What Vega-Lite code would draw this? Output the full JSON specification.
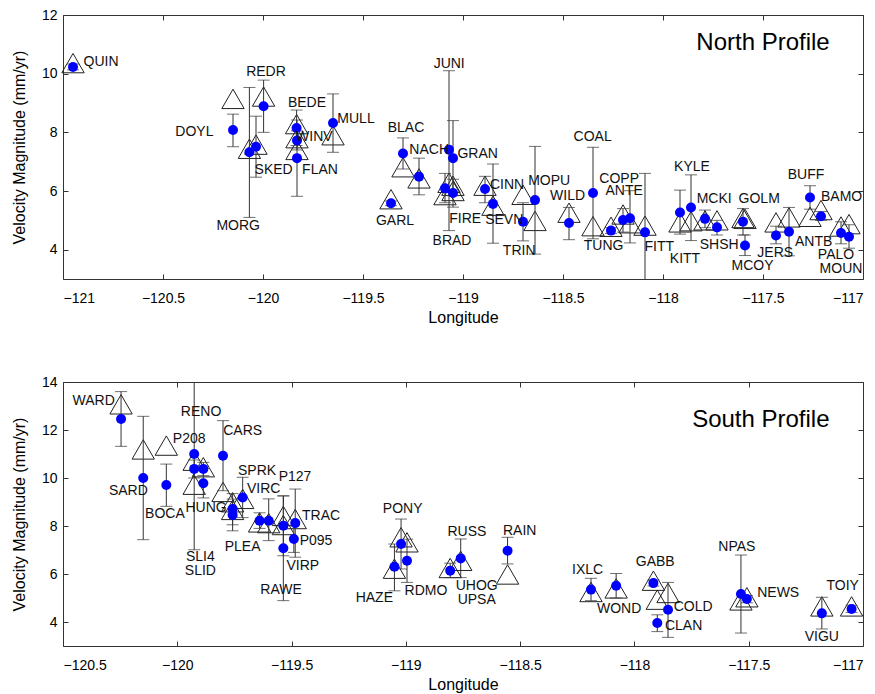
{
  "$schema": "https://vega.github.io/schema/vega-lite/v6.json",
  "padding": {"left": 10, "top": 7, "right": 0, "bottom": 0},
  "spacing": 48,
  "config": {
    "font": "Liberation Sans",
    "view": {"stroke": "#333", "strokeWidth": 1},
    "axis": {"grid": false, "domain": false, "tickSize": -5, "tickColor": "#333", "labelFontSize": 14, "labelColor": "#000", "titleFontSize": 16, "titleFontWeight": "normal", "titleColor": "#000", "labelFont": "Liberation Sans", "titleFont": "Liberation Sans"}
  },
  "datasets": {
    "north": [
      {"s":"QUIN","lon":-120.95,"obs":10.23,"lo":10.13,"hi":10.33,"mod":10.36},
      {"s":"DOYL","lon":-120.15,"obs":8.08,"lo":7.51,"hi":8.62,"mod":9.14},
      {"s":"MORG","lon":-120.068,"obs":7.32,"lo":5.10,"hi":9.53,"mod":7.44},
      {"s":"SKED","lon":-120.035,"obs":7.51,"lo":6.47,"hi":8.55,"mod":7.58},
      {"s":"REDR","lon":-119.997,"obs":8.89,"lo":8.00,"hi":9.78,"mod":9.22},
      {"s":"BEDE","lon":-119.832,"obs":8.15,"lo":7.55,"hi":8.76,"mod":8.28},
      {"s":"WINV","lon":-119.83,"obs":7.72,"lo":7.4,"hi":8.05,"mod":7.8},
      {"s":"FLAN","lon":-119.83,"obs":7.12,"lo":5.82,"hi":8.42,"mod":7.4},
      {"s":"MULL","lon":-119.65,"obs":8.32,"lo":7.32,"hi":9.31,"mod":7.9},
      {"s":"BLAC","lon":-119.30,"obs":7.28,"lo":6.75,"hi":7.81,"mod":6.81},
      {"s":"NACH","lon":-119.22,"obs":6.49,"lo":5.87,"hi":7.12,"mod":6.43},
      {"s":"GARL","lon":-119.36,"obs":5.58,"lo":5.5,"hi":5.66,"mod":5.72},
      {"s":"JUNI","lon":-119.07,"obs":7.41,"lo":4.65,"hi":10.1,"mod":6.28},
      {"s":"GRAN","lon":-119.05,"obs":7.12,"lo":5.84,"hi":8.4,"mod":6.18},
      {"s":"FIRE","lon":-119.09,"obs":6.09,"lo":5.6,"hi":6.6,"mod":5.86},
      {"s":"BRAD","lon":-119.05,"obs":5.93,"lo":5.45,"hi":6.4,"mod":6.0},
      {"s":"CINN","lon":-118.89,"obs":6.07,"lo":5.6,"hi":6.5,"mod":6.18},
      {"s":"SEVN","lon":-118.85,"obs":5.56,"lo":4.22,"hi":6.92,"mod":5.5},
      {"s":"TRIN","lon":-118.70,"obs":4.95,"lo":4.3,"hi":5.6,"mod":5.87},
      {"s":"MOPU","lon":-118.64,"obs":5.69,"lo":3.85,"hi":7.52,"mod":4.98},
      {"s":"WILD","lon":-118.47,"obs":4.91,"lo":4.34,"hi":5.44,"mod":5.26},
      {"s":"COAL","lon":-118.35,"obs":5.93,"lo":4.37,"hi":7.49,"mod":4.8},
      {"s":"TUNG","lon":-118.26,"obs":4.65,"lo":4.55,"hi":4.75,"mod":4.78},
      {"s":"COPP","lon":-118.20,"obs":5.01,"lo":4.6,"hi":5.4,"mod":5.2},
      {"s":"ANTE","lon":-118.165,"obs":5.07,"lo":4.23,"hi":6.01,"mod":4.9},
      {"s":"FITT","lon":-118.09,"obs":4.59,"lo":2.6,"hi":6.6,"mod":4.82},
      {"s":"KITT","lon":-117.915,"obs":5.27,"lo":4.53,"hi":6.03,"mod":4.93},
      {"s":"KYLE","lon":-117.86,"obs":5.44,"lo":4.31,"hi":6.55,"mod":4.97},
      {"s":"MCKI","lon":-117.79,"obs":5.05,"lo":4.75,"hi":5.35,"mod":5.0},
      {"s":"SHSH","lon":-117.73,"obs":4.76,"lo":4.5,"hi":5.0,"mod":5.0},
      {"s":"GOLM","lon":-117.60,"obs":4.95,"lo":4.5,"hi":5.4,"mod":5.08},
      {"s":"MCOY","lon":-117.59,"obs":4.14,"lo":3.8,"hi":4.5,"mod":5.05},
      {"s":"JERS","lon":-117.435,"obs":4.48,"lo":4.2,"hi":4.8,"mod":4.93},
      {"s":"ANTB","lon":-117.37,"obs":4.61,"lo":3.79,"hi":5.44,"mod":5.1},
      {"s":"BUFF","lon":-117.265,"obs":5.78,"lo":5.38,"hi":6.18,"mod":5.12},
      {"s":"BAMO","lon":-117.21,"obs":5.14,"lo":5.0,"hi":5.3,"mod":5.35},
      {"s":"PALO","lon":-117.11,"obs":4.57,"lo":4.2,"hi":4.95,"mod":4.79},
      {"s":"MOUN","lon":-117.07,"obs":4.44,"lo":4.05,"hi":4.85,"mod":4.87}
    ],
    "northLabels": [
      {"s":"QUIN","lx":-120.81,"ly":10.39},{"s":"REDR","lx":-119.985,"ly":10.07},{"s":"DOYL","lx":-120.343,"ly":8.0},
      {"s":"BEDE","lx":-119.78,"ly":8.99},{"s":"MULL","lx":-119.535,"ly":8.45},{"s":"WINV","lx":-119.743,"ly":7.83},
      {"s":"SKED","lx":-119.947,"ly":6.73},{"s":"FLAN","lx":-119.715,"ly":6.73},{"s":"MORG","lx":-120.124,"ly":4.8},
      {"s":"BLAC","lx":-119.285,"ly":8.15},{"s":"NACH","lx":-119.169,"ly":7.41},{"s":"GRAN","lx":-118.927,"ly":7.26},
      {"s":"JUNI","lx":-119.069,"ly":10.33},{"s":"GARL","lx":-119.34,"ly":4.97},{"s":"FIRE","lx":-118.989,"ly":5.04},
      {"s":"BRAD","lx":-119.055,"ly":4.3},{"s":"CINN","lx":-118.78,"ly":6.2},{"s":"SEVN","lx":-118.794,"ly":5.02},
      {"s":"TRIN","lx":-118.719,"ly":3.96},{"s":"MOPU","lx":-118.569,"ly":6.35},{"s":"WILD","lx":-118.477,"ly":5.84},
      {"s":"COAL","lx":-118.352,"ly":7.83},{"s":"COPP","lx":-118.219,"ly":6.42},{"s":"ANTE","lx":-118.194,"ly":6.0},
      {"s":"TUNG","lx":-118.297,"ly":4.13},{"s":"FITT","lx":-118.019,"ly":4.1},{"s":"KITT","lx":-117.89,"ly":3.68},
      {"s":"KYLE","lx":-117.855,"ly":6.81},{"s":"MCKI","lx":-117.744,"ly":5.73},{"s":"SHSH","lx":-117.719,"ly":4.17},
      {"s":"GOLM","lx":-117.519,"ly":5.73},{"s":"MCOY","lx":-117.552,"ly":3.45},{"s":"JERS","lx":-117.439,"ly":3.89},
      {"s":"ANTB","lx":-117.247,"ly":4.27},{"s":"BUFF","lx":-117.285,"ly":6.56},{"s":"BAMO","lx":-117.107,"ly":5.78},
      {"s":"PALO","lx":-117.135,"ly":3.82},{"s":"MOUN","lx":-117.11,"ly":3.34}
    ],
    "south": [
      {"s":"WARD","lon":-120.246,"obs":12.46,"lo":11.32,"hi":13.6,"mod":13.07},
      {"s":"SARD","lon":-120.149,"obs":10.0,"lo":7.43,"hi":12.57,"mod":11.19},
      {"s":"BOCA","lon":-120.048,"obs":9.71,"lo":8.82,"hi":10.58,"mod":11.35},
      {"s":"SLI4","lon":-119.926,"obs":11.0,"lo":7.01,"hi":15.0,"mod":10.72},
      {"s":"SLID","lon":-119.926,"obs":10.38,"lo":10.0,"hi":10.75,"mod":9.72},
      {"s":"RENO","lon":-119.886,"obs":10.38,"lo":10.1,"hi":10.65,"mod":10.45},
      {"s":"HUNG","lon":-119.886,"obs":9.78,"lo":9.17,"hi":10.39,"mod":null},
      {"s":"CARS","lon":-119.80,"obs":10.93,"lo":9.47,"hi":12.39,"mod":9.42},
      {"s":"SPRK","lon":-119.714,"obs":9.19,"lo":8.35,"hi":10.03,"mod":9.13},
      {"s":"PLEA","lon":-119.758,"obs":8.71,"lo":8.05,"hi":9.35,"mod":8.99},
      {"s":"PLEB","lon":-119.758,"obs":8.46,"lo":7.8,"hi":9.12,"mod":8.67},
      {"s":"VIRC","lon":-119.60,"obs":8.22,"lo":7.39,"hi":9.13,"mod":8.12},
      {"s":"VIRD","lon":-119.64,"obs":8.22,"lo":7.9,"hi":8.55,"mod":8.15},
      {"s":"P127","lon":-119.536,"obs":8.01,"lo":6.76,"hi":9.26,"mod":8.42},
      {"s":"RAWE","lon":-119.536,"obs":7.07,"lo":4.89,"hi":9.25,"mod":8.04},
      {"s":"TRAC","lon":-119.484,"obs":8.12,"lo":6.7,"hi":9.54,"mod":8.29},
      {"s":"P095","lon":-119.49,"obs":7.46,"lo":6.9,"hi":8.02,"mod":null},
      {"s":"PONY","lon":-119.021,"obs":7.25,"lo":6.21,"hi":8.29,"mod":7.53},
      {"s":"RDMO","lon":-118.995,"obs":6.55,"lo":5.65,"hi":7.45,"mod":7.32},
      {"s":"HAZE","lon":-119.05,"obs":6.3,"lo":5.3,"hi":7.25,"mod":6.22},
      {"s":"UPSA","lon":-118.806,"obs":6.14,"lo":5.85,"hi":6.45,"mod":6.25},
      {"s":"RUSS","lon":-118.76,"obs":6.65,"lo":5.85,"hi":7.46,"mod":6.55},
      {"s":"RAIN","lon":-118.555,"obs":6.97,"lo":6.42,"hi":7.53,"mod":5.98},
      {"s":"IXLC","lon":-118.19,"obs":5.35,"lo":4.89,"hi":5.82,"mod":5.25},
      {"s":"WOND","lon":-118.08,"obs":5.51,"lo":5.0,"hi":6.02,"mod":5.4},
      {"s":"GABB","lon":-117.917,"obs":5.62,"lo":5.5,"hi":5.75,"mod":5.72},
      {"s":"COLD","lon":-117.853,"obs":4.51,"lo":3.36,"hi":5.65,"mod":5.21},
      {"s":"CLAN","lon":-117.90,"obs":3.96,"lo":3.6,"hi":4.3,"mod":4.93},
      {"s":"NPAS","lon":-117.534,"obs":5.17,"lo":3.54,"hi":6.79,"mod":4.9},
      {"s":"NEWS","lon":-117.508,"obs":4.96,"lo":4.8,"hi":5.1,"mod":5.03},
      {"s":"VIGU","lon":-117.18,"obs":4.36,"lo":3.71,"hi":5.03,"mod":4.65},
      {"s":"TOIY","lon":-117.05,"obs":4.54,"lo":4.4,"hi":4.7,"mod":4.65}
    ],
    "southLabels": [
      {"s":"WARD","lx":-120.366,"ly":13.22},{"s":"SARD","lx":-120.214,"ly":9.47},{"s":"BOCA","lx":-120.054,"ly":8.5},
      {"s":"P208","lx":-119.948,"ly":11.63},{"s":"RENO","lx":-119.896,"ly":12.76},{"s":"CARS","lx":-119.714,"ly":11.97},
      {"s":"HUNG","lx":-119.874,"ly":8.74},{"s":"SLI4","lx":-119.899,"ly":6.72},{"s":"SLID","lx":-119.899,"ly":6.14},
      {"s":"SPRK","lx":-119.651,"ly":10.3},{"s":"P127","lx":-119.485,"ly":10.03},{"s":"VIRC","lx":-119.622,"ly":9.54},
      {"s":"TRAC","lx":-119.371,"ly":8.4},{"s":"PLEA","lx":-119.714,"ly":7.11},{"s":"P095","lx":-119.393,"ly":7.36},
      {"s":"VIRP","lx":-119.451,"ly":6.35},{"s":"RAWE","lx":-119.546,"ly":5.35},{"s":"PONY","lx":-119.014,"ly":8.71},
      {"s":"RUSS","lx":-118.733,"ly":7.74},{"s":"RAIN","lx":-118.502,"ly":7.8},{"s":"HAZE","lx":-119.138,"ly":4.99},
      {"s":"RDMO","lx":-118.912,"ly":5.3},{"s":"UHOG","lx":-118.69,"ly":5.52},{"s":"UPSA","lx":-118.69,"ly":4.92},
      {"s":"IXLC","lx":-118.205,"ly":6.18},{"s":"WOND","lx":-118.067,"ly":4.54},{"s":"GABB","lx":-117.909,"ly":6.49},
      {"s":"COLD","lx":-117.743,"ly":4.61},{"s":"CLAN","lx":-117.785,"ly":3.85},{"s":"NPAS","lx":-117.552,"ly":7.11},
      {"s":"NEWS","lx":-117.371,"ly":5.21},{"s":"TOIY","lx":-117.089,"ly":5.49},{"s":"VIGU","lx":-117.18,"ly":3.36}
    ],
    "northTitle": [{"t":"North Profile","lx":-117.5,"ly":11.05}],
    "southTitle": [{"t":"South Profile","lx":-117.447,"ly":12.42}]
  },
  "vconcat": [
    {
      "width": 800, "height": 264,
      "resolve": {"axis": {"x": "independent", "y": "independent"}},
      "layer": [
        {
          "data": {"name": "north"},
          "mark": {"type": "point", "shape": "triangle-up", "size": 500, "filled": false, "stroke": "#222", "strokeWidth": 1, "opacity": 1},
          "encoding": {
            "x": {"field": "lon", "type": "quantitative", "scale": {"domain": [-121, -117], "nice": false, "zero": false},
                  "axis": {"values": [-121, -120.5, -120, -119.5, -119, -118.5, -118, -117.5, -117], "format": ".1~f", "title": "Longitude", "labelPadding": 17, "titlePadding": 4}},
            "y": {"field": "mod", "type": "quantitative", "scale": {"domain": [3, 12], "nice": false, "zero": false},
                  "axis": {"values": [4, 6, 8, 10, 12], "title": "Velocity Magnitude (mm/yr)", "labelPadding": 11, "titlePadding": 14}}
          }
        },
        {
          "data": {"name": "north"},
          "mark": {"type": "rule", "color": "#333", "strokeWidth": 1, "clip": true},
          "encoding": {
            "x": {"field": "lon", "type": "quantitative", "axis": null},
            "y": {"field": "lo", "type": "quantitative", "axis": null},
            "y2": {"field": "hi"}
          }
        },
        {
          "data": {"name": "north"},
          "mark": {"type": "tick", "orient": "horizontal", "color": "#333", "size": 12, "thickness": 1, "clip": true},
          "encoding": {
            "x": {"field": "lon", "type": "quantitative", "axis": null},
            "y": {"field": "lo", "type": "quantitative", "axis": null}
          }
        },
        {
          "data": {"name": "north"},
          "mark": {"type": "tick", "orient": "horizontal", "color": "#333", "size": 12, "thickness": 1, "clip": true},
          "encoding": {
            "x": {"field": "lon", "type": "quantitative", "axis": null},
            "y": {"field": "hi", "type": "quantitative", "axis": null}
          }
        },
        {
          "data": {"name": "north"},
          "mark": {"type": "point", "shape": "circle", "size": 100, "filled": true, "color": "#0000ff", "opacity": 1},
          "encoding": {
            "x": {"field": "lon", "type": "quantitative", "axis": null},
            "y": {"field": "obs", "type": "quantitative", "axis": null}
          }
        },
        {
          "data": {"name": "northLabels"},
          "mark": {"type": "text", "fontSize": 14, "font": "Liberation Sans", "color": "#111", "align": "center", "baseline": "middle"},
          "encoding": {
            "x": {"field": "lx", "type": "quantitative", "axis": null},
            "y": {"field": "ly", "type": "quantitative", "axis": null},
            "text": {"field": "s"}
          }
        },
        {
          "data": {"name": "northTitle"},
          "mark": {"type": "text", "fontSize": 24, "font": "Liberation Sans", "color": "#000", "align": "center", "baseline": "middle"},
          "encoding": {
            "x": {"field": "lx", "type": "quantitative", "axis": {"orient": "top", "values": [-121, -120.5, -120, -119.5, -119, -118.5, -118, -117.5, -117], "labels": false, "title": null}},
            "y": {"field": "ly", "type": "quantitative", "axis": {"orient": "right", "values": [4, 6, 8, 10, 12], "labels": false, "title": null}},
            "text": {"field": "t"}
          }
        }
      ]
    },
    {
      "width": 800, "height": 264,
      "resolve": {"axis": {"x": "independent", "y": "independent"}},
      "layer": [
        {
          "data": {"name": "south"},
          "mark": {"type": "point", "shape": "triangle-up", "size": 500, "filled": false, "stroke": "#222", "strokeWidth": 1, "opacity": 1},
          "encoding": {
            "x": {"field": "lon", "type": "quantitative", "scale": {"domain": [-120.5, -117], "nice": false, "zero": false},
                  "axis": {"values": [-120.5, -120, -119.5, -119, -118.5, -118, -117.5, -117], "format": ".1~f", "title": "Longitude", "labelPadding": 17, "titlePadding": 4}},
            "y": {"field": "mod", "type": "quantitative", "scale": {"domain": [3, 14], "nice": false, "zero": false},
                  "axis": {"values": [4, 6, 8, 10, 12, 14], "title": "Velocity Magnitude (mm/yr)", "labelPadding": 11, "titlePadding": 14}}
          }
        },
        {
          "data": {"name": "south"},
          "mark": {"type": "rule", "color": "#333", "strokeWidth": 1, "clip": true},
          "encoding": {
            "x": {"field": "lon", "type": "quantitative", "axis": null},
            "y": {"field": "lo", "type": "quantitative", "axis": null},
            "y2": {"field": "hi"}
          }
        },
        {
          "data": {"name": "south"},
          "mark": {"type": "tick", "orient": "horizontal", "color": "#333", "size": 12, "thickness": 1, "clip": true},
          "encoding": {
            "x": {"field": "lon", "type": "quantitative", "axis": null},
            "y": {"field": "lo", "type": "quantitative", "axis": null}
          }
        },
        {
          "data": {"name": "south"},
          "mark": {"type": "tick", "orient": "horizontal", "color": "#333", "size": 12, "thickness": 1, "clip": true},
          "encoding": {
            "x": {"field": "lon", "type": "quantitative", "axis": null},
            "y": {"field": "hi", "type": "quantitative", "axis": null}
          }
        },
        {
          "data": {"name": "south"},
          "mark": {"type": "point", "shape": "circle", "size": 100, "filled": true, "color": "#0000ff", "opacity": 1},
          "encoding": {
            "x": {"field": "lon", "type": "quantitative", "axis": null},
            "y": {"field": "obs", "type": "quantitative", "axis": null}
          }
        },
        {
          "data": {"name": "southLabels"},
          "mark": {"type": "text", "fontSize": 14, "font": "Liberation Sans", "color": "#111", "align": "center", "baseline": "middle"},
          "encoding": {
            "x": {"field": "lx", "type": "quantitative", "axis": null},
            "y": {"field": "ly", "type": "quantitative", "axis": null},
            "text": {"field": "s"}
          }
        },
        {
          "data": {"name": "southTitle"},
          "mark": {"type": "text", "fontSize": 24, "font": "Liberation Sans", "color": "#000", "align": "center", "baseline": "middle"},
          "encoding": {
            "x": {"field": "lx", "type": "quantitative", "axis": {"orient": "top", "values": [-120.5, -120, -119.5, -119, -118.5, -118, -117.5, -117], "labels": false, "title": null}},
            "y": {"field": "ly", "type": "quantitative", "axis": {"orient": "right", "values": [4, 6, 8, 10, 12, 14], "labels": false, "title": null}},
            "text": {"field": "t"}
          }
        }
      ]
    }
  ]
}
